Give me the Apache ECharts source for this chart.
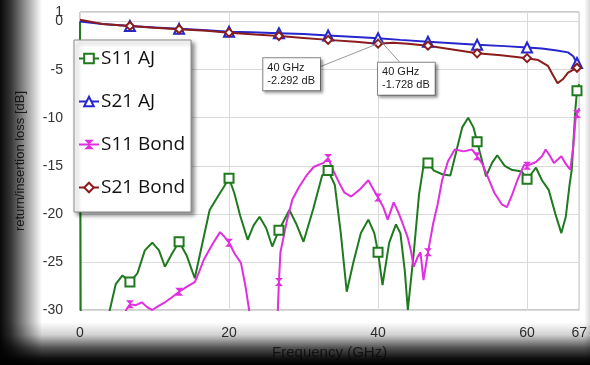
<!DOCTYPE html>
<html>
<head>
<meta charset="utf-8">
<script src="https://cdn.jsdelivr.net/npm/echarts@6/dist/echarts.min.js"></script>
<style>
  html, body { margin: 0; padding: 0; background: #fff; }
  #chart { width: 590px; height: 365px; }
</style>
</head>
<body>
<div id="chart"></div>
<script>
const seriesNames = ["S11 AJ", "S21 AJ", "S11 Bond", "S21 Bond"];
const markerFreqs = [6.7, 13.3, 20, 26.7, 33.3, 40, 46.7, 53.3, 60, 66.7];

const s11Aj = [
  [0, 0], [0.1, -33], [3.5, -33], [4.0, -30], [4.8, -27.3], [5.7, -26.4], [6.7, -27.1],
  [7.7, -26.2], [8.7, -23.8], [9.7, -23.0], [10.6, -23.8], [11.4, -25.5], [12.3, -24.2],
  [13.3, -22.9], [14.3, -24.3], [15.4, -26.7], [16.3, -23.5], [17.4, -19.6], [18.5, -18.2],
  [19.3, -17.2], [20, -16.3], [20.7, -17.8], [21.5, -20.2], [22.5, -22.7], [23.3, -21.2],
  [24.1, -20.3], [25, -21.5], [25.8, -23.4], [26.7, -21.7], [28.1, -19.6], [29, -21],
  [30, -22.9], [31.3, -19.5], [32.5, -16], [33.3, -15.5], [34.2, -17], [35, -22],
  [35.8, -28.1], [36.7, -25], [37.7, -22], [38.7, -20.6], [39.5, -22], [40, -24],
  [40.6, -27.4], [41.5, -23], [42.4, -21.1], [43, -22], [43.6, -26], [44, -30],
  [44.8, -24], [45.5, -18], [46.1, -15], [46.7, -14.7], [47.5, -15.5], [48.7, -15.9],
  [49.7, -16], [50.5, -13.5], [51.3, -11], [52.1, -10], [52.8, -11], [53.3, -12.5],
  [54.5, -16.1], [55.3, -14.7], [56, -13.9], [57, -15.0], [57.9, -15.4], [59.3, -15.6],
  [60, -16.4], [60.6, -15.8], [61.2, -15.2], [62, -16.5], [62.9, -17.5], [63.8, -20],
  [64.6, -22], [65.2, -20.3], [65.7, -17], [66.0, -15.4], [66.5, -9], [66.7, -7.2], [67, -6.5]
];

const s21Aj = [
  [0, 0], [3, -0.25], [6.7, -0.45], [10, -0.6], [13.3, -0.75], [17, -0.9], [20, -1.05],
  [23, -1.1], [26.7, -1.2], [30, -1.3], [33.3, -1.45], [37, -1.6], [40, -1.728],
  [43, -1.9], [46.7, -2.1], [50, -2.25], [53.3, -2.4], [57, -2.55], [60, -2.7],
  [62, -2.8], [64, -3.0], [65.5, -3.2], [66.2, -3.6], [66.7, -4.3], [67, -4.4]
];

const s11Bond = [
  [5.5, -33], [6.2, -30], [6.7, -29.4], [7.5, -29.5], [8.3, -29.2], [9, -29.7], [9.7, -30],
  [10.5, -29.6], [11.4, -29.2], [12.3, -28.7], [13.3, -28.1], [14.3, -27.6], [15.4, -27.1],
  [16, -26], [16.6, -24.8], [17.3, -23.8], [17.9, -23.0], [18.8, -21.9], [19.4, -22.4],
  [20, -23], [20.8, -24.2], [21.6, -25.1], [22.2, -27.5], [22.7, -30], [23, -33],
  [26.4, -33], [26.55, -30], [26.7, -27.1], [26.9, -24], [27.8, -20.6], [28.5, -18.5],
  [29.4, -17.2], [30.4, -16], [31.4, -15.1], [32.7, -14.7], [33.3, -14.2], [34, -15.5],
  [34.8, -16.8], [35.5, -17.8], [36.4, -18.2], [37.5, -17.5], [38.7, -16.5], [39.4, -17.5],
  [40, -18.3], [40.7, -19.3], [41.3, -20.6], [42.1, -18.8], [42.7, -19.8], [43.3, -21],
  [44, -22.5], [44.4, -23.8], [44.8, -25.5], [45.3, -24.5], [45.7, -24], [46.1, -26.9],
  [46.7, -24], [47.4, -21], [48, -19], [48.6, -16.5], [49.4, -14.5], [50.3, -13.3],
  [51.5, -13.5], [52.6, -13.3], [53.3, -14], [54, -14.8], [54.7, -16.1], [55.6, -17.8],
  [56.6, -19], [57.3, -19.3], [58, -18], [58.7, -16.5], [59.6, -14.9], [60, -15.0],
  [61.2, -14.6], [62, -14], [62.5, -13.3], [63.1, -14], [63.6, -14.7], [64.2, -14.3],
  [64.6, -14], [65.2, -14.8], [65.8, -15.4], [66.2, -13], [66.5, -10.2], [66.7, -9.6], [67, -9]
];

const s21Bond = [
  [0, 0.2], [3, -0.25], [6.7, -0.45], [10, -0.65], [13.3, -0.8], [17, -0.95], [20, -1.15],
  [23.5, -1.35], [26.7, -1.5], [30, -1.7], [33.3, -1.9], [37, -2.1], [40, -2.292],
  [42, -2.2], [44, -2.3], [46.7, -2.5], [50, -2.9], [53.3, -3.3], [56.5, -3.5], [60, -3.8],
  [61.5, -4.0], [62.8, -4.6], [63.5, -5.6], [64.1, -6.4], [64.8, -6.0], [65.5, -5.3],
  [66.7, -4.8], [67, -4.7]
];

const annotFreq = 40;
const annotAj = -1.728;
const annotBond = -2.292;

const fontAxis = "'Liberation Sans', Arial, sans-serif";
const fontLegend = "'Open Sans', 'Noto Sans', sans-serif";

function withMarkers(points) {
  return points.map((p) =>
    markerFreqs.includes(p[0]) ? { value: p } : { value: p, symbol: "none" },
  );
}

function fmt(v) {
  return v.toFixed(3);
}

const chart = echarts.init(document.getElementById("chart"), null, { renderer: "canvas" });

const boxLabel = {
  show: true,
  position: "inside",
  align: "left",
  verticalAlign: "middle",
  fontFamily: fontAxis,
  fontSize: 11,
  lineHeight: 13,
  color: "#222",
  backgroundColor: "#fff",
  borderColor: "#888",
  borderWidth: 1,
  padding: [3, 5, 3, 4],
  shadowColor: "rgba(0,0,0,0.35)",
  shadowBlur: 3,
  shadowOffsetX: 2,
  shadowOffsetY: 2,
};

const yLabel = {
  fontFamily: fontAxis,
  fontSize: 14,
  color: "#333",
  margin: 17,
};

const option = {
  animation: false,
  backgroundColor: "#fff",
  grid: {
    left: 80,
    right: 7,
    top: 12,
    bottom: 55,
    show: true,
    borderColor: "#999",
    borderWidth: 1,
    backgroundColor: "#fff",
  },
  legend: {
    orient: "vertical",
    left: 74,
    top: 40,
    data: seriesNames,
    backgroundColor: "#fff",
    borderColor: "#888",
    borderWidth: 1,
    padding: [9, 6, 15, 4],
    itemGap: 24,
    itemWidth: 20,
    itemHeight: 12,
    shadowColor: "rgba(0,0,0,0.45)",
    shadowBlur: 4,
    shadowOffsetX: 3,
    shadowOffsetY: 3,
    textStyle: {
      fontFamily: fontLegend,
      fontSize: 19,
      color: "#111",
      padding: [0, 0, 0, -3],
    },
  },
  xAxis: {
    type: "value",
    min: 0,
    max: 67,
    interval: 20,
    name: "Frequency (GHz)",
    nameLocation: "middle",
    nameGap: 35,
    nameTextStyle: { fontFamily: fontAxis, fontSize: 15, color: "#555" },
    axisLine: { show: false },
    axisTick: { show: false },
    axisLabel: {
      fontFamily: fontAxis,
      fontSize: 14,
      color: "#333",
      margin: 16,
      showMaxLabel: true,
      showMinLabel: true,
    },
    splitLine: { show: true, lineStyle: { color: "#d9d9d9", width: 1 } },
  },
  yAxis: [
    {
      type: "value",
      min: -30,
      max: 1,
      interval: 5,
      name: "return/insertion loss [dB]",
      nameLocation: "middle",
      nameGap: 53,
      nameTextStyle: { fontFamily: fontAxis, fontSize: 13, color: "#333" },
      axisLine: { show: false },
      axisTick: { show: false },
      axisLabel: Object.assign({}, yLabel, {
        showMaxLabel: false,
        showMinLabel: true,
        hideOverlap: false,
      }),
      splitLine: { show: true, lineStyle: { color: "#d9d9d9", width: 1 } },
    },
    {
      type: "value",
      position: "left",
      min: -30,
      max: 1,
      interval: 31,
      axisLine: { show: false },
      axisTick: { show: false },
      splitLine: { show: false },
      axisLabel: Object.assign({}, yLabel, {
        showMaxLabel: true,
        showMinLabel: false,
        hideOverlap: false,
        formatter: (v) => (v === 1 ? "1" : ""),
      }),
    },
  ],
  series: [
    {
      name: seriesNames[0],
      type: "line",
      data: withMarkers(s11Aj),
      symbol: "emptyRect",
      symbolSize: 9,
      color: "#1f7a1f",
      lineStyle: { width: 2, color: "#1f7a1f" },
      itemStyle: { color: "#1f7a1f", borderWidth: 1.5 },
    },
    {
      name: seriesNames[1],
      type: "line",
      data: withMarkers(s21Aj),
      symbol: "emptyTriangle",
      symbolSize: 10,
      color: "#2626cc",
      lineStyle: { width: 2, color: "#2626cc" },
      itemStyle: { color: "#2626cc", borderWidth: 1.5 },
    },
    {
      name: seriesNames[2],
      type: "line",
      data: withMarkers(s11Bond),
      symbol: "path://M0,0L10,0L0,10L10,10Z",
      symbolSize: 8,
      color: "#e02ee0",
      lineStyle: { width: 2, color: "#e02ee0" },
      itemStyle: { color: "#e02ee0" },
    },
    {
      name: seriesNames[3],
      type: "line",
      data: withMarkers(s21Bond),
      symbol: "emptyDiamond",
      symbolSize: 8,
      color: "#8b1c1c",
      lineStyle: { width: 2, color: "#8b1c1c" },
      itemStyle: { color: "#8b1c1c", borderWidth: 1.5 },
      markLine: {
        silent: true,
        symbol: ["none", "none"],
        label: { show: false },
        lineStyle: { color: "#999", width: 1, type: "solid" },
        data: [
          [{ coord: [annotFreq, annotBond] }, { coord: [32.2, -4.7] }],
          [{ coord: [annotFreq, annotAj] }, { coord: [43.0, -4.3] }],
        ],
      },
      markPoint: {
        silent: true,
        symbol: "circle",
        symbolSize: 1,
        itemStyle: { color: "rgba(0,0,0,0)" },
        data: [
          {
            coord: [24.6, -5.47],
            label: Object.assign({}, boxLabel, {
              formatter: annotFreq + " GHz\n" + fmt(annotBond) + " dB",
            }),
          },
          {
            coord: [40.0, -5.94],
            label: Object.assign({}, boxLabel, {
              formatter: annotFreq + " GHz\n" + fmt(annotAj) + " dB",
            }),
          },
        ],
      },
    },
  ],
  graphic: [
    {
      type: "rect",
      left: 0,
      top: 0,
      z: 100,
      silent: true,
      shape: { width: 42, height: 365 },
      style: {
        fill: {
          type: "linear", x: 0, y: 0, x2: 1, y2: 0,
          colorStops: [
            { offset: 0, color: "rgba(0,0,0,0.97)" },
            { offset: 0.25, color: "rgba(0,0,0,0.8)" },
            { offset: 1, color: "rgba(0,0,0,0)" },
          ],
        },
      },
    },
    {
      type: "rect",
      left: 0,
      top: 322,
      z: 100,
      silent: true,
      shape: { width: 590, height: 43 },
      style: {
        fill: {
          type: "linear", x: 0, y: 0, x2: 0, y2: 1,
          colorStops: [
            { offset: 0, color: "rgba(0,0,0,0)" },
            { offset: 0.3, color: "rgba(0,0,0,0.18)" },
            { offset: 0.6, color: "rgba(0,0,0,0.68)" },
            { offset: 0.85, color: "rgba(0,0,0,0.94)" },
            { offset: 1, color: "rgba(0,0,0,1)" },
          ],
        },
      },
    },
    {
      type: "rect",
      right: 0,
      top: 0,
      z: 100,
      silent: true,
      shape: { width: 6, height: 365 },
      style: {
        fill: {
          type: "linear", x: 0, y: 0, x2: 1, y2: 0,
          colorStops: [
            { offset: 0, color: "rgba(0,0,0,0)" },
            { offset: 1, color: "rgba(0,0,0,0.15)" },
          ],
        },
      },
    },
  ],
};

chart.setOption(option);
</script>
</body>
</html>
